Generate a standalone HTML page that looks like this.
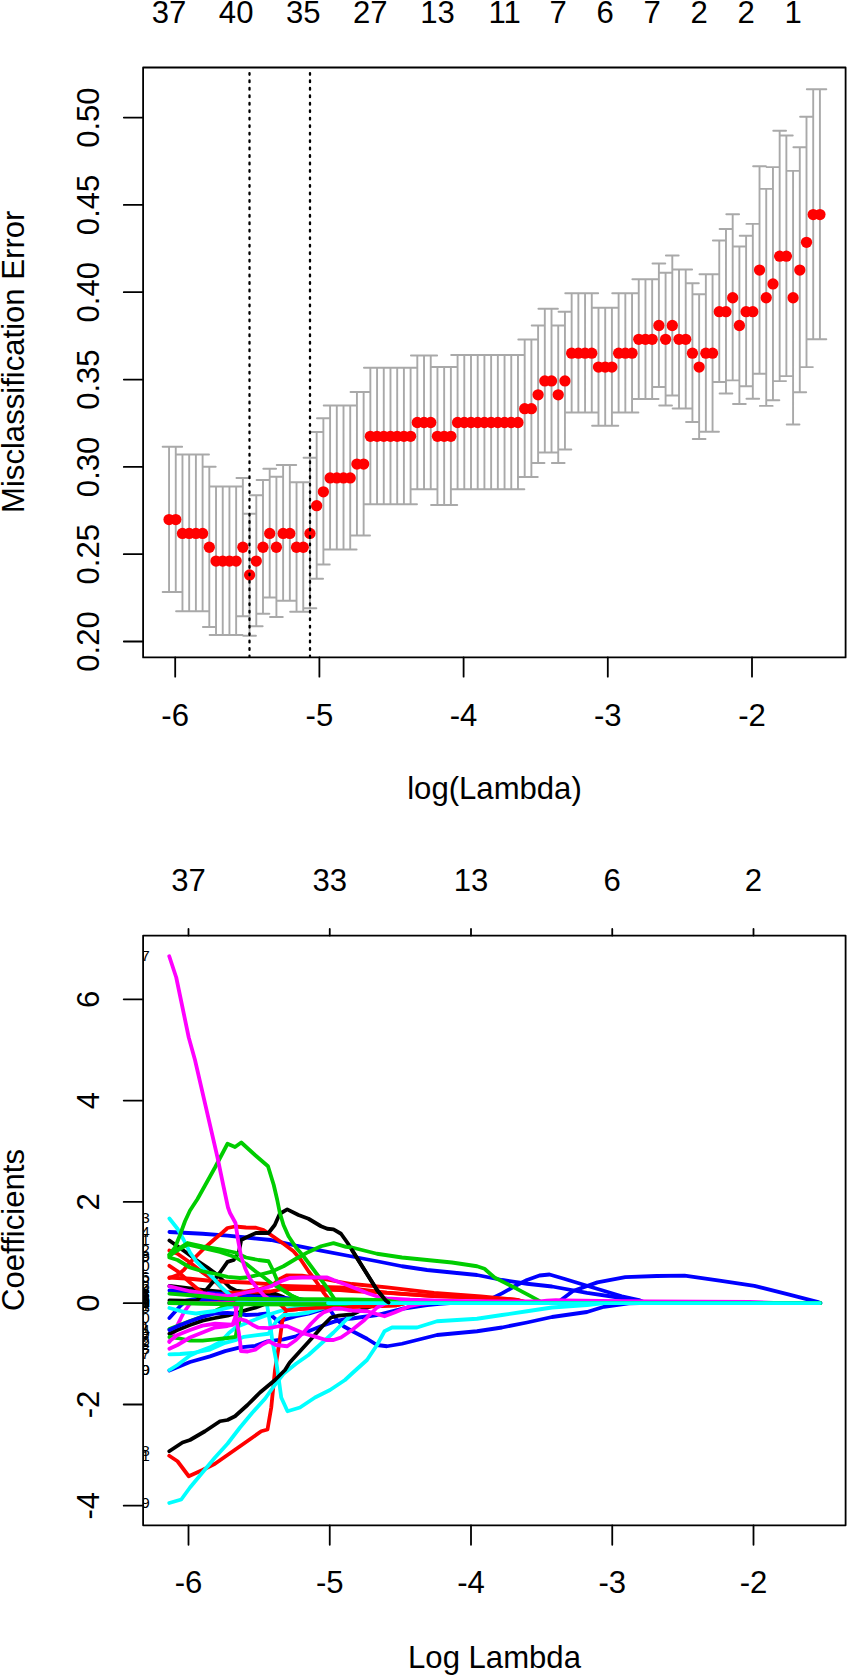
<!DOCTYPE html>
<html lang="en"><head><meta charset="utf-8"><title>glmnet</title>
<style>
html,body{margin:0;padding:0;background:#fff}
svg{display:block}
.t{font-family:"Liberation Sans", Arial, Helvetica, sans-serif;font-size:31.1px;fill:#000}
.s{font-family:"Liberation Sans", Arial, Helvetica, sans-serif;font-size:15.3px;fill:#000}
</style></head><body>
<svg width="848" height="1675" viewBox="0 0 848 1675">
<rect width="848" height="1675" fill="#fff"/>
<path d="M169.05 446.75V592.00M162.65 446.75H175.45M162.65 592.00H175.45M175.76 446.75V592.00M169.36 446.75H182.16M169.36 592.00H182.16M182.47 454.50V611.25M176.07 454.50H188.87M176.07 611.25H188.87M189.18 454.50V611.25M182.78 454.50H195.58M182.78 611.25H195.58M195.89 454.50V611.25M189.49 454.50H202.29M189.49 611.25H202.29M202.60 454.50V611.25M196.20 454.50H209.00M196.20 611.25H209.00M209.31 466.75V627.00M202.91 466.75H215.71M202.91 627.00H215.71M216.02 486.50V635.00M209.62 486.50H222.42M209.62 635.00H222.42M222.73 486.50V635.00M216.33 486.50H229.13M216.33 635.00H229.13M229.44 486.50V635.00M223.04 486.50H235.84M223.04 635.00H235.84M236.15 486.50V635.00M229.75 486.50H242.55M229.75 635.00H242.55M242.86 478.00V616.25M236.46 478.00H249.26M236.46 616.25H249.26M249.57 513.75V635.75M243.17 513.75H255.97M243.17 635.75H255.97M256.28 495.25V626.25M249.88 495.25H262.68M249.88 626.25H262.68M262.99 480.00V613.75M256.59 480.00H269.39M256.59 613.75H269.39M269.70 468.75V597.50M263.30 468.75H276.10M263.30 597.50H276.10M276.41 476.75V617.00M270.01 476.75H282.81M270.01 617.00H282.81M283.12 465.00V600.75M276.72 465.00H289.52M276.72 600.75H289.52M289.83 465.00V600.75M283.43 465.00H296.23M283.43 600.75H296.23M296.54 482.25V611.75M290.14 482.25H302.94M290.14 611.75H302.94M303.25 482.25V611.75M296.85 482.25H309.65M296.85 611.75H309.65M309.96 457.75V608.25M303.56 457.75H316.36M303.56 608.25H316.36M316.67 432.00V578.75M310.27 432.00H323.07M310.27 578.75H323.07M323.38 418.25V564.50M316.98 418.25H329.78M316.98 564.50H329.78M330.09 405.50V549.50M323.69 405.50H336.49M323.69 549.50H336.49M336.80 405.50V549.50M330.40 405.50H343.20M330.40 549.50H343.20M343.51 405.50V549.50M337.11 405.50H349.91M337.11 549.50H349.91M350.22 405.50V549.50M343.82 405.50H356.62M343.82 549.50H356.62M356.93 392.00V535.50M350.53 392.00H363.33M350.53 535.50H363.33M363.64 392.00V535.50M357.24 392.00H370.04M357.24 535.50H370.04M370.35 367.75V504.25M363.95 367.75H376.75M363.95 504.25H376.75M377.06 367.75V504.25M370.66 367.75H383.46M370.66 504.25H383.46M383.77 367.75V504.25M377.37 367.75H390.17M377.37 504.25H390.17M390.48 367.75V504.25M384.08 367.75H396.88M384.08 504.25H396.88M397.19 367.75V504.25M390.79 367.75H403.59M390.79 504.25H403.59M403.90 367.75V504.25M397.50 367.75H410.30M397.50 504.25H410.30M410.61 367.75V504.25M404.21 367.75H417.01M404.21 504.25H417.01M417.32 355.50V489.25M410.92 355.50H423.72M410.92 489.25H423.72M424.03 355.50V489.25M417.63 355.50H430.43M417.63 489.25H430.43M430.74 355.50V489.25M424.34 355.50H437.14M424.34 489.25H437.14M437.45 367.00V505.00M431.05 367.00H443.85M431.05 505.00H443.85M444.16 367.00V505.00M437.76 367.00H450.56M437.76 505.00H450.56M450.87 367.00V505.00M444.47 367.00H457.27M444.47 505.00H457.27M457.58 355.00V489.25M451.18 355.00H463.98M451.18 489.25H463.98M464.29 355.00V489.25M457.89 355.00H470.69M457.89 489.25H470.69M471.00 355.00V489.25M464.60 355.00H477.40M464.60 489.25H477.40M477.71 355.00V489.25M471.31 355.00H484.11M471.31 489.25H484.11M484.42 355.00V489.25M478.02 355.00H490.82M478.02 489.25H490.82M491.13 355.00V489.25M484.73 355.00H497.53M484.73 489.25H497.53M497.84 355.00V489.25M491.44 355.00H504.24M491.44 489.25H504.24M504.55 355.00V489.25M498.15 355.00H510.95M498.15 489.25H510.95M511.26 355.00V489.25M504.86 355.00H517.66M504.86 489.25H517.66M517.97 355.00V489.25M511.57 355.00H524.37M511.57 489.25H524.37M524.68 339.50V477.00M518.28 339.50H531.08M518.28 477.00H531.08M531.39 339.50V477.00M524.99 339.50H537.79M524.99 477.00H537.79M538.10 325.50V463.00M531.70 325.50H544.50M531.70 463.00H544.50M544.81 308.75V452.50M538.41 308.75H551.21M538.41 452.50H551.21M551.52 308.75V452.50M545.12 308.75H557.92M545.12 452.50H557.92M558.23 325.50V463.00M551.83 325.50H564.63M551.83 463.00H564.63M564.94 311.75V449.50M558.54 311.75H571.34M558.54 449.50H571.34M571.65 293.25V412.50M565.25 293.25H578.05M565.25 412.50H578.05M578.36 293.25V412.50M571.96 293.25H584.76M571.96 412.50H584.76M585.07 293.25V412.50M578.67 293.25H591.47M578.67 412.50H591.47M591.78 293.25V412.50M585.38 293.25H598.18M585.38 412.50H598.18M598.49 307.75V425.75M592.09 307.75H604.89M592.09 425.75H604.89M605.20 307.75V425.75M598.80 307.75H611.60M598.80 425.75H611.60M611.91 307.75V425.75M605.51 307.75H618.31M605.51 425.75H618.31M618.62 293.25V412.50M612.22 293.25H625.02M612.22 412.50H625.02M625.33 293.25V412.50M618.93 293.25H631.73M618.93 412.50H631.73M632.04 293.25V412.50M625.64 293.25H638.44M625.64 412.50H638.44M638.75 279.25V399.00M632.35 279.25H645.15M632.35 399.00H645.15M645.46 279.25V399.00M639.06 279.25H651.86M639.06 399.00H651.86M652.17 279.25V399.00M645.77 279.25H658.57M645.77 399.00H658.57M658.88 263.50V387.00M652.48 263.50H665.28M652.48 387.00H665.28M665.59 272.75V405.50M659.19 272.75H671.99M659.19 405.50H671.99M672.30 255.50V395.50M665.90 255.50H678.70M665.90 395.50H678.70M679.01 269.50V408.50M672.61 269.50H685.41M672.61 408.50H685.41M685.72 269.50V408.50M679.32 269.50H692.12M679.32 408.50H692.12M692.43 283.25V422.00M686.03 283.25H698.83M686.03 422.00H698.83M699.14 294.25V439.00M692.74 294.25H705.54M692.74 439.00H705.54M705.85 274.25V431.75M699.45 274.25H712.25M699.45 431.75H712.25M712.56 274.25V431.75M706.16 274.25H718.96M706.16 431.75H718.96M719.27 240.50V382.00M712.87 240.50H725.67M712.87 382.00H725.67M725.98 229.00V393.50M719.58 229.00H732.38M719.58 393.50H732.38M732.69 214.20V380.40M726.29 214.20H739.09M726.29 380.40H739.09M739.40 246.50V404.00M733.00 246.50H745.80M733.00 404.00H745.80M746.11 235.80V386.30M739.71 235.80H752.51M739.71 386.30H752.51M752.82 223.90V398.80M746.42 223.90H759.22M746.42 398.80H759.22M759.53 166.20V373.80M753.13 166.20H765.93M753.13 373.80H765.93M766.24 188.90V405.90M759.84 188.90H772.64M759.84 405.90H772.64M772.95 167.10V400.30M766.55 167.10H779.35M766.55 400.30H779.35M779.66 130.80V381.10M773.26 130.80H786.06M773.26 381.10H786.06M786.37 135.50V376.10M779.97 135.50H792.77M779.97 376.10H792.77M793.08 170.90V424.50M786.68 170.90H799.48M786.68 424.50H799.48M799.79 147.20V392.30M793.39 147.20H806.19M793.39 392.30H806.19M806.50 116.80V367.10M800.10 116.80H812.90M800.10 367.10H812.90M813.21 89.25V339.20M806.81 89.25H819.61M806.81 339.20H819.61M819.92 89.25V339.20M813.52 89.25H826.32M813.52 339.20H826.32" fill="none" stroke="#a9a9a9" stroke-width="1.9" stroke-linecap="round"/>
<g fill="#ff0000"><circle cx="169.05" cy="519.53" r="5.65"/><circle cx="175.76" cy="519.53" r="5.65"/><circle cx="182.47" cy="533.39" r="5.65"/><circle cx="189.18" cy="533.39" r="5.65"/><circle cx="195.89" cy="533.39" r="5.65"/><circle cx="202.60" cy="533.39" r="5.65"/><circle cx="209.31" cy="547.25" r="5.65"/><circle cx="216.02" cy="561.11" r="5.65"/><circle cx="222.73" cy="561.11" r="5.65"/><circle cx="229.44" cy="561.11" r="5.65"/><circle cx="236.15" cy="561.11" r="5.65"/><circle cx="242.86" cy="547.25" r="5.65"/><circle cx="249.57" cy="574.97" r="5.65"/><circle cx="256.28" cy="561.11" r="5.65"/><circle cx="262.99" cy="547.25" r="5.65"/><circle cx="269.70" cy="533.39" r="5.65"/><circle cx="276.41" cy="547.25" r="5.65"/><circle cx="283.12" cy="533.39" r="5.65"/><circle cx="289.83" cy="533.39" r="5.65"/><circle cx="296.54" cy="547.25" r="5.65"/><circle cx="303.25" cy="547.25" r="5.65"/><circle cx="309.96" cy="533.39" r="5.65"/><circle cx="316.67" cy="505.67" r="5.65"/><circle cx="323.38" cy="491.81" r="5.65"/><circle cx="330.09" cy="477.95" r="5.65"/><circle cx="336.80" cy="477.95" r="5.65"/><circle cx="343.51" cy="477.95" r="5.65"/><circle cx="350.22" cy="477.95" r="5.65"/><circle cx="356.93" cy="464.09" r="5.65"/><circle cx="363.64" cy="464.09" r="5.65"/><circle cx="370.35" cy="436.37" r="5.65"/><circle cx="377.06" cy="436.37" r="5.65"/><circle cx="383.77" cy="436.37" r="5.65"/><circle cx="390.48" cy="436.37" r="5.65"/><circle cx="397.19" cy="436.37" r="5.65"/><circle cx="403.90" cy="436.37" r="5.65"/><circle cx="410.61" cy="436.37" r="5.65"/><circle cx="417.32" cy="422.51" r="5.65"/><circle cx="424.03" cy="422.51" r="5.65"/><circle cx="430.74" cy="422.51" r="5.65"/><circle cx="437.45" cy="436.37" r="5.65"/><circle cx="444.16" cy="436.37" r="5.65"/><circle cx="450.87" cy="436.37" r="5.65"/><circle cx="457.58" cy="422.51" r="5.65"/><circle cx="464.29" cy="422.51" r="5.65"/><circle cx="471.00" cy="422.51" r="5.65"/><circle cx="477.71" cy="422.51" r="5.65"/><circle cx="484.42" cy="422.51" r="5.65"/><circle cx="491.13" cy="422.51" r="5.65"/><circle cx="497.84" cy="422.51" r="5.65"/><circle cx="504.55" cy="422.51" r="5.65"/><circle cx="511.26" cy="422.51" r="5.65"/><circle cx="517.97" cy="422.51" r="5.65"/><circle cx="524.68" cy="408.65" r="5.65"/><circle cx="531.39" cy="408.65" r="5.65"/><circle cx="538.10" cy="394.79" r="5.65"/><circle cx="544.81" cy="380.93" r="5.65"/><circle cx="551.52" cy="380.93" r="5.65"/><circle cx="558.23" cy="394.79" r="5.65"/><circle cx="564.94" cy="380.93" r="5.65"/><circle cx="571.65" cy="353.21" r="5.65"/><circle cx="578.36" cy="353.21" r="5.65"/><circle cx="585.07" cy="353.21" r="5.65"/><circle cx="591.78" cy="353.21" r="5.65"/><circle cx="598.49" cy="367.07" r="5.65"/><circle cx="605.20" cy="367.07" r="5.65"/><circle cx="611.91" cy="367.07" r="5.65"/><circle cx="618.62" cy="353.21" r="5.65"/><circle cx="625.33" cy="353.21" r="5.65"/><circle cx="632.04" cy="353.21" r="5.65"/><circle cx="638.75" cy="339.35" r="5.65"/><circle cx="645.46" cy="339.35" r="5.65"/><circle cx="652.17" cy="339.35" r="5.65"/><circle cx="658.88" cy="325.49" r="5.65"/><circle cx="665.59" cy="339.35" r="5.65"/><circle cx="672.30" cy="325.49" r="5.65"/><circle cx="679.01" cy="339.35" r="5.65"/><circle cx="685.72" cy="339.35" r="5.65"/><circle cx="692.43" cy="353.21" r="5.65"/><circle cx="699.14" cy="367.07" r="5.65"/><circle cx="705.85" cy="353.21" r="5.65"/><circle cx="712.56" cy="353.21" r="5.65"/><circle cx="719.27" cy="311.63" r="5.65"/><circle cx="725.98" cy="311.63" r="5.65"/><circle cx="732.69" cy="297.77" r="5.65"/><circle cx="739.40" cy="325.49" r="5.65"/><circle cx="746.11" cy="311.63" r="5.65"/><circle cx="752.82" cy="311.63" r="5.65"/><circle cx="759.53" cy="270.05" r="5.65"/><circle cx="766.24" cy="297.77" r="5.65"/><circle cx="772.95" cy="283.91" r="5.65"/><circle cx="779.66" cy="256.19" r="5.65"/><circle cx="786.37" cy="256.19" r="5.65"/><circle cx="793.08" cy="297.77" r="5.65"/><circle cx="799.79" cy="270.05" r="5.65"/><circle cx="806.50" cy="242.33" r="5.65"/><circle cx="813.21" cy="214.61" r="5.65"/><circle cx="819.92" cy="214.61" r="5.65"/></g>
<line x1="249.5" y1="73.05" x2="249.5" y2="656.40" stroke="#000" stroke-width="2.3" stroke-dasharray="1.7 5.77" stroke-linecap="round"/>
<line x1="310.0" y1="73.05" x2="310.0" y2="656.40" stroke="#000" stroke-width="2.3" stroke-dasharray="1.7 5.77" stroke-linecap="round"/>
<rect x="143.1" y="67.5" width="702.5" height="589.9" fill="none" stroke="#000" stroke-width="1.8" stroke-linejoin="round"/>
<text transform="translate(98.5 117.6) rotate(-90)" text-anchor="middle" class="t">0.50</text>
<text transform="translate(98.5 204.9) rotate(-90)" text-anchor="middle" class="t">0.45</text>
<text transform="translate(98.5 292.2) rotate(-90)" text-anchor="middle" class="t">0.40</text>
<text transform="translate(98.5 379.6) rotate(-90)" text-anchor="middle" class="t">0.35</text>
<text transform="translate(98.5 466.9) rotate(-90)" text-anchor="middle" class="t">0.30</text>
<text transform="translate(98.5 554.2) rotate(-90)" text-anchor="middle" class="t">0.25</text>
<text transform="translate(98.5 641.5) rotate(-90)" text-anchor="middle" class="t">0.20</text>
<text x="175.2" y="725.5" text-anchor="middle" class="t">-6</text>
<text x="319.4" y="725.5" text-anchor="middle" class="t">-5</text>
<text x="463.6" y="725.5" text-anchor="middle" class="t">-4</text>
<text x="607.8" y="725.5" text-anchor="middle" class="t">-3</text>
<text x="752.0" y="725.5" text-anchor="middle" class="t">-2</text>
<path d="M143.1 117.6H123.8M143.1 204.9H123.8M143.1 292.2H123.8M143.1 379.6H123.8M143.1 466.9H123.8M143.1 554.2H123.8M143.1 641.5H123.8M175.2 657.4V676.6999999999999M319.4 657.4V676.6999999999999M463.6 657.4V676.6999999999999M607.8 657.4V676.6999999999999M752.0 657.4V676.6999999999999" fill="none" stroke="#000" stroke-width="1.8" stroke-linecap="round"/>
<text x="169.05" y="22.5" text-anchor="middle" class="t">37</text>
<text x="236.15" y="22.5" text-anchor="middle" class="t">40</text>
<text x="303.25" y="22.5" text-anchor="middle" class="t">35</text>
<text x="370.35" y="22.5" text-anchor="middle" class="t">27</text>
<text x="437.45" y="22.5" text-anchor="middle" class="t">13</text>
<text x="504.55" y="22.5" text-anchor="middle" class="t">11</text>
<text x="558.23" y="22.5" text-anchor="middle" class="t">7</text>
<text x="605.20" y="22.5" text-anchor="middle" class="t">6</text>
<text x="652.17" y="22.5" text-anchor="middle" class="t">7</text>
<text x="699.14" y="22.5" text-anchor="middle" class="t">2</text>
<text x="746.11" y="22.5" text-anchor="middle" class="t">2</text>
<text x="793.08" y="22.5" text-anchor="middle" class="t">1</text>
<text transform="translate(24 361.8) rotate(-90)" text-anchor="middle" class="t">Misclassification Error</text>
<text x="494.5" y="799.3" text-anchor="middle" class="t">log(Lambda)</text>
<clipPath id="cb"><rect x="143.1" y="935.6" width="702.5" height="589.7499999999999"/></clipPath>
<g clip-path="url(#cb)" fill="none" stroke-width="3.8" stroke-linecap="round" stroke-linejoin="round">
<path d="M169.40 1342.00L177.50 1325.00L183.75 1312.50L190.00 1303.75L195.00 1299.50L215.00 1299.00L228.00 1300.50L233.00 1303.10L819.80 1303.10" stroke="#ff00ff"/>
<path d="M169.40 1240.50L177.50 1246.25L186.25 1252.50L196.25 1260.00L207.50 1267.50L217.50 1275.00L225.00 1282.50L230.00 1287.50L236.25 1290.60L246.00 1292.00L260.00 1293.00L275.00 1293.70L283.50 1297.00L292.00 1303.10L819.80 1303.10" stroke="#000000"/>
<path d="M169.40 1286.00L202.50 1290.00L227.50 1292.50L246.00 1294.00L266.00 1294.50L284.00 1298.00L300.00 1303.10L819.80 1303.10" stroke="#000000"/>
<path d="M169.40 1333.75L177.50 1330.00L190.00 1325.00L202.50 1320.60L215.00 1318.00L227.50 1315.60L240.00 1312.00L247.70 1309.60L255.30 1307.70L265.00 1304.00L270.00 1303.10L819.80 1303.10" stroke="#000000"/>
<path d="M169.40 1329.00L190.00 1321.00L202.50 1316.50L212.00 1312.50L222.00 1307.50L230.00 1304.80L237.00 1304.00L345.00 1304.00L352.00 1303.10L819.80 1303.10" stroke="#00cd00"/>
<path d="M169.40 1232.00L202.50 1233.75L227.50 1235.60L246.00 1237.50L271.00 1240.00L296.00 1245.60L321.00 1250.60L352.00 1256.50L377.00 1261.25L402.00 1266.25L427.00 1270.00L452.00 1272.50L477.00 1275.00L502.00 1280.00L527.00 1283.75L552.00 1286.50L587.00 1292.80L621.80 1298.00L639.00 1300.80L650.00 1303.10L819.80 1303.10" stroke="#0000ff"/>
<path d="M169.40 1290.50L200.00 1292.50L230.00 1294.50L246.00 1296.00L300.00 1299.00L320.00 1303.10L819.80 1303.10" stroke="#0000ff"/>
<path d="M169.40 1318.00L177.50 1309.00L181.25 1305.00L186.00 1300.50L195.00 1299.00L230.00 1300.00L260.00 1303.10L484.00 1303.10L487.00 1300.80L502.00 1293.40L514.50 1286.25L527.00 1280.00L539.50 1275.50L549.50 1274.50L564.00 1278.75L587.00 1285.80L621.80 1296.30L639.00 1300.00L645.00 1303.10L819.80 1303.10" stroke="#0000ff"/>
<path d="M169.40 1330.00L177.50 1326.25L190.00 1321.25L202.50 1316.90L215.00 1313.50L227.50 1312.80L235.00 1313.40L246.00 1315.00L258.50 1314.50L267.40 1313.40L272.25 1316.25L277.25 1320.60L281.00 1322.50L283.50 1320.00L296.00 1316.25L308.50 1313.75L321.00 1310.00L328.50 1307.50L331.00 1311.25L336.00 1318.75L343.50 1326.25L352.00 1331.00L367.00 1338.75L377.00 1345.00L387.00 1346.25L402.00 1343.75L437.00 1335.00L477.00 1331.25L502.00 1327.50L527.00 1322.50L552.00 1317.00L587.00 1312.00L604.00 1306.80L628.80 1303.30L640.00 1303.10L819.80 1303.10" stroke="#0000ff"/>
<path d="M169.40 1370.50L190.00 1362.00L210.00 1356.40L225.10 1351.10L240.20 1347.40L255.30 1345.80L267.40 1341.30L283.50 1339.40L296.00 1336.25L308.50 1331.25L321.00 1326.25L333.50 1321.90L346.00 1318.75L352.00 1318.50L377.00 1315.00L402.00 1308.75L427.00 1305.00L439.50 1303.75L450.00 1303.10L819.80 1303.10" stroke="#0000ff"/>
<path d="M169.40 1303.10L556.00 1303.10L559.00 1301.50L573.00 1291.00L597.40 1282.40L625.30 1277.10L656.70 1276.00L684.60 1275.70L719.50 1280.60L754.40 1285.80L789.30 1294.60L817.30 1301.80L820.50 1303.10" stroke="#0000ff"/>
<path d="M169.40 1250.50L177.50 1253.75L190.00 1262.50L202.50 1272.50L215.00 1281.25L221.25 1287.50L226.25 1293.00L240.00 1292.50L260.00 1288.75L272.00 1285.50L279.00 1279.40L287.00 1275.30L302.00 1275.60L321.00 1278.50L340.00 1282.00L352.00 1284.00L387.00 1287.40L434.00 1292.90L481.00 1296.40L517.00 1299.80L530.00 1303.10L819.80 1303.10" stroke="#ff0000"/>
<path d="M169.40 1265.80L177.50 1271.25L190.00 1282.50L200.00 1291.00L210.00 1297.00L220.00 1298.50L235.00 1296.00L246.00 1292.00L270.00 1291.50L283.00 1289.00L300.00 1289.00L340.00 1290.20L352.00 1291.00L387.00 1292.80L434.00 1296.10L481.00 1297.60L517.00 1300.00L528.00 1303.10L819.80 1303.10" stroke="#ff0000"/>
<path d="M169.40 1277.50L190.00 1278.75L215.00 1281.25L246.00 1282.50L275.00 1284.50L283.00 1286.00L300.00 1286.50L340.00 1287.50L352.00 1288.50L372.00 1291.00L387.00 1292.60L434.00 1296.10L481.00 1297.60L517.00 1300.00L528.00 1303.10L819.80 1303.10" stroke="#ff0000"/>
<path d="M169.25 1455.75L177.50 1461.25L188.75 1476.25L202.50 1470.00L215.00 1463.75L227.50 1455.00L240.00 1446.25L252.50 1437.50L261.25 1431.25L267.50 1429.50L271.25 1407.50L275.00 1370.00L279.75 1340.00L282.25 1321.25L284.75 1313.75L286.20 1310.30L301.00 1308.80L316.00 1307.80L340.00 1307.00L372.00 1306.40L396.00 1305.30L405.00 1303.10L819.80 1303.10" stroke="#ff0000"/>
<path d="M169.40 1278.00L177.50 1275.00L183.75 1270.00L190.00 1262.50L196.25 1256.25L205.00 1247.50L215.00 1238.75L222.50 1232.50L227.50 1228.00L235.00 1226.50L246.00 1227.50L256.00 1227.75L263.50 1230.00L271.00 1235.00L283.50 1243.75L293.50 1251.25L301.00 1260.00L308.50 1271.25L316.00 1281.25L323.50 1292.50L328.50 1298.75L333.50 1303.10L819.80 1303.10" stroke="#ff0000"/>
<path d="M169.40 1300.50L195.00 1301.00L197.50 1300.00L205.00 1291.25L212.50 1282.50L220.00 1272.50L227.50 1261.90L233.75 1260.00L238.75 1252.50L241.25 1240.00L246.00 1237.50L256.00 1233.00L268.50 1233.00L274.75 1225.00L279.75 1213.75L287.25 1209.40L298.50 1215.00L308.50 1218.75L321.00 1226.25L327.25 1228.75L333.50 1229.40L341.00 1233.75L347.25 1242.50L352.00 1250.00L364.50 1270.00L377.00 1290.00L385.75 1300.50L388.00 1303.10L819.80 1303.10" stroke="#000000"/>
<path d="M169.40 1218.50L177.50 1228.75L183.75 1240.00L190.00 1252.50L196.25 1261.25L205.00 1270.00L215.00 1280.00L222.00 1288.00L230.00 1295.00L240.00 1300.00L250.00 1303.10L819.80 1303.10" stroke="#00ffff"/>
<path d="M169.40 1308.00L183.75 1311.90L196.00 1313.50L215.00 1311.00L235.00 1306.00L250.00 1303.10L819.80 1303.10" stroke="#00ffff"/>
<path d="M169.40 1354.40L180.00 1354.00L192.50 1353.00L210.00 1349.60L225.10 1342.80L236.40 1339.80L244.00 1336.80L255.30 1335.30L268.50 1333.75L272.25 1327.50L277.25 1320.00L283.50 1315.00L296.00 1314.40L308.50 1312.50L321.00 1308.75L333.50 1304.40L341.00 1303.10L819.80 1303.10" stroke="#00ffff"/>
<path d="M169.40 1370.00L177.50 1365.00L190.00 1355.50L200.00 1351.00L210.00 1347.40L221.30 1341.30L228.90 1333.00L236.40 1327.00L247.70 1322.50L259.00 1318.00L267.40 1315.00L283.50 1310.00L296.00 1307.50L320.00 1304.00L335.00 1303.10L819.80 1303.10" stroke="#00ffff"/>
<path d="M169.25 1503.00L181.25 1499.50L190.00 1487.50L202.50 1472.50L215.00 1457.50L227.50 1443.75L240.00 1427.50L252.50 1412.50L265.00 1398.75L274.75 1385.00L283.50 1373.75L296.00 1363.75L308.50 1355.00L321.00 1343.75L333.50 1332.50L346.00 1320.00L352.00 1315.00L364.50 1307.50L372.00 1303.00L377.00 1303.10L819.80 1303.10" stroke="#00ffff"/>
<path d="M169.40 1303.10L266.00 1303.10L267.25 1306.25L269.75 1321.25L272.25 1340.00L276.00 1360.00L278.50 1377.50L281.25 1397.50L287.50 1411.25L300.00 1407.50L315.00 1397.50L330.00 1390.00L345.00 1380.00L352.00 1373.50L367.00 1360.00L377.00 1345.00L384.50 1331.25L392.00 1327.50L417.00 1327.50L437.00 1321.25L477.00 1318.75L502.00 1315.00L527.00 1311.25L552.00 1307.50L587.00 1305.00L604.00 1303.00L615.00 1303.10L819.80 1303.10" stroke="#00ffff"/>
<path d="M169.25 1451.25L182.50 1442.50L190.00 1440.00L205.00 1431.25L220.00 1421.25L227.50 1420.00L235.00 1416.25L247.50 1405.00L260.00 1392.50L275.00 1380.00L285.00 1370.00L289.75 1362.50L302.25 1348.75L314.75 1335.00L323.50 1325.00L331.00 1317.50L338.50 1315.60L352.00 1314.40L364.50 1308.75L374.50 1305.00L380.00 1303.10L819.80 1303.10" stroke="#000000"/>
<path d="M169.40 1303.10L278.00 1303.10L281.70 1305.80L286.20 1310.30L301.00 1308.80L316.00 1307.80L340.00 1307.00L372.00 1306.40L396.00 1305.30L405.00 1303.10L819.80 1303.10" stroke="#ff0000"/>
<path d="M169.40 1256.25L178.00 1249.00L187.50 1243.00L202.50 1246.25L220.00 1249.40L235.00 1252.50L246.00 1257.50L258.50 1260.00L268.50 1261.25L272.60 1269.50L276.40 1278.60L278.60 1286.90L286.20 1292.20L292.20 1296.00L300.00 1299.50L345.00 1299.80L352.00 1303.10L819.80 1303.10" stroke="#00cd00"/>
<path d="M169.40 1255.00L178.00 1250.00L187.50 1244.50L202.50 1248.00L220.00 1252.00L235.00 1257.00L246.00 1263.75L256.00 1271.80L263.50 1277.00L271.00 1283.00L278.60 1287.70L286.20 1292.20L292.20 1296.00L300.00 1299.50L345.00 1299.80L352.00 1303.10L819.80 1303.10" stroke="#00cd00"/>
<path d="M169.40 1257.50L177.50 1260.00L190.00 1267.50L202.50 1271.25L215.00 1273.75L227.50 1276.90L240.00 1278.00L246.00 1277.50L258.50 1275.00L271.00 1271.90L283.50 1266.25L296.00 1258.75L308.50 1251.90L321.00 1246.25L333.50 1243.10L346.00 1246.90L352.00 1247.50L377.00 1253.75L402.00 1257.50L427.00 1260.00L452.00 1262.50L477.00 1266.25L484.50 1268.75L494.50 1277.50L505.00 1282.90L516.90 1288.80L528.70 1295.20L537.00 1299.60L543.00 1303.10L819.80 1303.10" stroke="#00cd00"/>
<path d="M169.40 1337.00L177.50 1338.00L190.00 1340.60L202.50 1340.60L215.00 1339.40L227.50 1338.00L235.70 1336.80L236.40 1332.00L240.00 1318.70L241.50 1306.00L243.00 1303.50L345.00 1304.00L352.00 1303.10L819.80 1303.10" stroke="#00cd00"/>
<path d="M169.40 1254.40L175.00 1247.50L180.00 1235.00L185.00 1221.25L190.00 1210.50L197.50 1199.00L202.50 1190.00L215.00 1167.50L227.50 1143.75L235.00 1147.00L241.25 1142.50L255.00 1155.00L268.00 1166.25L273.75 1185.00L277.25 1200.00L279.75 1212.50L283.50 1225.00L288.50 1236.25L296.00 1247.50L303.50 1256.25L311.00 1266.25L318.50 1276.25L326.00 1286.25L333.50 1297.50L337.00 1303.10L819.80 1303.10" stroke="#00cd00"/>
<path d="M169.40 1286.25L190.00 1291.25L215.00 1295.00L227.50 1296.25L246.00 1292.50L258.50 1290.00L271.00 1286.25L281.00 1281.25L289.75 1278.00L302.25 1277.50L316.00 1277.50L327.25 1277.50L333.50 1280.00L348.90 1285.70L367.70 1293.20L379.00 1297.00L386.60 1298.30L410.00 1299.60L450.00 1300.80L500.00 1301.40L540.00 1301.40L547.00 1300.60L556.00 1300.20L564.00 1300.40L600.00 1301.00L650.00 1301.30L750.00 1301.90L780.00 1303.10L819.80 1303.10" stroke="#ff00ff"/>
<path d="M169.40 1341.25L177.50 1335.00L190.00 1330.00L202.50 1325.60L215.00 1323.75L227.50 1324.40L232.60 1324.70L240.00 1319.00L246.20 1320.90L252.30 1324.70L258.30 1327.70L268.90 1328.10L278.50 1326.25L287.25 1326.25L296.00 1330.00L304.75 1333.75L316.00 1336.90L326.00 1340.00L333.50 1340.00L341.00 1337.50L352.00 1330.00L364.50 1320.00L377.00 1307.50L384.50 1303.75L388.00 1303.10L819.80 1303.10" stroke="#ff00ff"/>
<path d="M169.40 1348.75L177.50 1345.00L190.00 1337.50L202.50 1332.50L215.00 1327.50L227.50 1326.00L232.60 1324.70L235.00 1318.00L236.50 1308.00L238.00 1303.10L819.80 1303.10" stroke="#ff00ff"/>
<path d="M169.40 1303.10L233.00 1303.10L235.70 1307.40L236.40 1320.00L238.70 1332.00L240.20 1342.80L240.90 1351.00L247.70 1351.50L255.30 1349.60L262.80 1344.30L268.90 1341.30L276.00 1345.00L287.25 1346.25L296.00 1340.00L303.50 1332.50L311.00 1323.75L318.50 1316.25L323.50 1312.50L333.50 1308.75L341.00 1308.75L352.00 1310.60L367.00 1311.25L384.50 1316.25L394.50 1312.50L409.50 1306.25L422.00 1303.75L430.00 1303.10L819.80 1303.10" stroke="#ff00ff"/>
<path d="M169.25 956.25L176.25 977.50L182.50 1007.50L188.75 1037.50L195.00 1060.00L202.50 1092.50L210.00 1125.00L217.50 1157.50L223.75 1187.50L228.00 1207.50L230.00 1213.00L235.50 1223.00L238.00 1240.00L241.00 1256.00L245.00 1268.00L250.00 1279.00L257.00 1288.00L264.00 1295.50L271.00 1300.50L280.00 1303.10L819.80 1303.10" stroke="#ff00ff"/>
<path d="M236.00 1303.10L820.50 1303.10" stroke="#00ffff"/>
<path d="M169.40 1293.60L200.00 1296.00L227.00 1298.80L300.00 1299.30L352.00 1299.30L385.00 1300.20L402.00 1303.10L819.80 1303.10" stroke="#00cd00"/>
<path d="M169.40 1302.70L230.00 1303.80L300.00 1304.10L325.00 1304.10L333.00 1303.10L819.80 1303.10" stroke="#00cd00"/>
<path d="M169.40 1303.20L230.00 1304.30L300.00 1304.50L325.00 1304.30L333.00 1303.10L819.80 1303.10" stroke="#00cd00"/>
<path d="M328 1303.1H819.8" stroke="#00ffff"/>
<path d="M352 1250L364.5 1270L377 1290L385.75 1300.5L388.5 1302.6" stroke="#000000"/>
</g>
<g clip-path="url(#cb)">
<text x="149.8" y="961.15" text-anchor="end" class="s">37</text>
<text x="149.8" y="1223.40" text-anchor="end" class="s">13</text>
<text x="149.8" y="1236.90" text-anchor="end" class="s">24</text>
<text x="149.8" y="1245.40" text-anchor="end" class="s">31</text>
<text x="149.8" y="1255.40" text-anchor="end" class="s">12</text>
<text x="149.8" y="1260.50" text-anchor="end" class="s">28</text>
<text x="149.8" y="1262.40" text-anchor="end" class="s">9</text>
<text x="149.8" y="1270.70" text-anchor="end" class="s">20</text>
<text x="149.8" y="1282.40" text-anchor="end" class="s">16</text>
<text x="149.8" y="1282.90" text-anchor="end" class="s">5</text>
<text x="149.8" y="1290.90" text-anchor="end" class="s">22</text>
<text x="149.8" y="1291.15" text-anchor="end" class="s">36</text>
<text x="149.8" y="1295.40" text-anchor="end" class="s">14</text>
<text x="149.8" y="1298.50" text-anchor="end" class="s">33</text>
<text x="149.8" y="1303.40" text-anchor="end" class="s">8</text>
<text x="149.8" y="1307.60" text-anchor="end" class="s">3</text>
<text x="149.8" y="1312.90" text-anchor="end" class="s">25</text>
<text x="149.8" y="1322.90" text-anchor="end" class="s">10</text>
<text x="149.8" y="1332.90" text-anchor="end" class="s">21</text>
<text x="149.8" y="1334.90" text-anchor="end" class="s">34</text>
<text x="149.8" y="1338.65" text-anchor="end" class="s">19</text>
<text x="149.8" y="1341.90" text-anchor="end" class="s">27</text>
<text x="149.8" y="1346.15" text-anchor="end" class="s">6</text>
<text x="149.8" y="1346.90" text-anchor="end" class="s">32</text>
<text x="149.8" y="1353.65" text-anchor="end" class="s">18</text>
<text x="149.8" y="1359.30" text-anchor="end" class="s">17</text>
<text x="149.8" y="1374.90" text-anchor="end" class="s">29</text>
<text x="149.8" y="1375.40" text-anchor="end" class="s">40</text>
<text x="149.8" y="1300.90" text-anchor="end" class="s">7</text>
<text x="149.8" y="1302.90" text-anchor="end" class="s">26</text>
<text x="149.8" y="1304.40" text-anchor="end" class="s">2</text>
<text x="149.8" y="1305.40" text-anchor="end" class="s">35</text>
<text x="149.8" y="1306.40" text-anchor="end" class="s">15</text>
<text x="149.8" y="1308.00" text-anchor="end" class="s">30</text>
<text x="149.8" y="1308.00" text-anchor="end" class="s">23</text>
<text x="149.8" y="1309.40" text-anchor="end" class="s">4</text>
<text x="149.8" y="1310.90" text-anchor="end" class="s">1</text>
<text x="149.8" y="1456.15" text-anchor="end" class="s">38</text>
<text x="149.8" y="1460.65" text-anchor="end" class="s">11</text>
<text x="149.8" y="1507.90" text-anchor="end" class="s">39</text>
</g>
<rect x="143.1" y="935.6" width="702.5" height="589.7499999999999" fill="none" stroke="#000" stroke-width="1.8" stroke-linejoin="round"/>
<text transform="translate(98.5 999.3) rotate(-90)" text-anchor="middle" class="t">6</text>
<text transform="translate(98.5 1100.6) rotate(-90)" text-anchor="middle" class="t">4</text>
<text transform="translate(98.5 1201.9) rotate(-90)" text-anchor="middle" class="t">2</text>
<text transform="translate(98.5 1303.2) rotate(-90)" text-anchor="middle" class="t">0</text>
<text transform="translate(98.5 1404.5) rotate(-90)" text-anchor="middle" class="t">-2</text>
<text transform="translate(98.5 1505.7) rotate(-90)" text-anchor="middle" class="t">-4</text>
<text x="188.5" y="1593.2" text-anchor="middle" class="t">-6</text>
<text x="188.5" y="890.9" text-anchor="middle" class="t">37</text>
<text x="329.75" y="1593.2" text-anchor="middle" class="t">-5</text>
<text x="329.75" y="890.9" text-anchor="middle" class="t">33</text>
<text x="471.0" y="1593.2" text-anchor="middle" class="t">-4</text>
<text x="471.0" y="890.9" text-anchor="middle" class="t">13</text>
<text x="612.25" y="1593.2" text-anchor="middle" class="t">-3</text>
<text x="612.25" y="890.9" text-anchor="middle" class="t">6</text>
<text x="753.5" y="1593.2" text-anchor="middle" class="t">-2</text>
<text x="753.5" y="890.9" text-anchor="middle" class="t">2</text>
<path d="M143.1 999.3H123.69999999999999M143.1 1100.6H123.69999999999999M143.1 1201.9H123.69999999999999M143.1 1303.2H123.69999999999999M143.1 1404.5H123.69999999999999M143.1 1505.7H123.69999999999999M188.5 1525.35V1544.75M188.5 935.6V929.0M329.75 1525.35V1544.75M329.75 935.6V929.0M471.0 1525.35V1544.75M471.0 935.6V929.0M612.25 1525.35V1544.75M612.25 935.6V929.0M753.5 1525.35V1544.75M753.5 935.6V929.0" fill="none" stroke="#000" stroke-width="1.8" stroke-linecap="round"/>
<text transform="translate(24 1230) rotate(-90)" text-anchor="middle" class="t">Coefficients</text>
<text x="494.5" y="1667.5" text-anchor="middle" class="t">Log Lambda</text>
</svg>
</body></html>
